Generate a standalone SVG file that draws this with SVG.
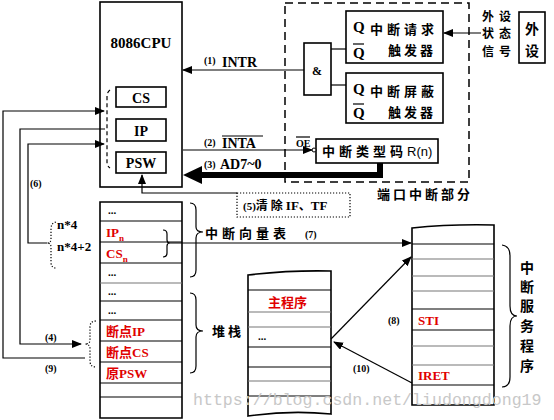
<svg xmlns="http://www.w3.org/2000/svg" width="554" height="420" viewBox="0 0 554 420">
<defs>
<style>
.b{fill:none;stroke:#000;stroke-width:1.6}
.t{fill:none;stroke:#000;stroke-width:1.2}
.k{stroke:#000;stroke-width:1.2}
.s{font-family:"Liberation Serif","Times New Roman",serif;font-weight:bold;fill:#000}
.cn{font-family:"Noto Sans CJK SC","Noto Sans CJK JP",sans-serif;font-weight:bold;fill:#000}
.r{fill:#e00000}
.dot{fill:none;stroke:#000;stroke-width:1.2;stroke-dasharray:1.2,1.8}
</style>
<marker id="ah" markerWidth="10" markerHeight="8" refX="9" refY="4" orient="auto" markerUnits="userSpaceOnUse">
<path d="M0,0 L10,4 L0,8 Z" fill="#000"/>
</marker>
</defs>
<rect width="554" height="420" fill="#fff"/>

<g id="cpu">
<rect class="b" x="100" y="2" width="82" height="185"/>
<text class="s" x="141" y="48" font-size="15" text-anchor="middle">8086CPU</text>
<rect class="b" x="116" y="87" width="50" height="20"/>
<text class="s" x="141" y="103" font-size="14" text-anchor="middle">CS</text>
<rect class="b" x="116" y="119" width="50" height="22"/>
<text class="s" x="141" y="136" font-size="14" text-anchor="middle">IP</text>
<rect class="b" x="116" y="152" width="50" height="21"/>
<text class="s" x="141" y="168" font-size="14" text-anchor="middle">PSW</text>
<path d="M110,90 Q107,92 107,97 L107,162 Q107,166 110,168" fill="none" stroke="#000" stroke-width="1.2" stroke-dasharray="4,3"/>
</g>

<g id="port">
<rect x="285" y="3" width="184" height="179" fill="none" stroke="#000" stroke-width="1.5" stroke-dasharray="8,5"/>
<text class="cn" x="377" y="199" font-size="13" letter-spacing="3">端口中断部分</text>
</g>

<g id="andgate">
<rect class="b" x="304" y="43" width="27" height="52"/>
<text class="s" x="317" y="75" font-size="12" text-anchor="middle">&amp;</text>
</g>

<g id="reqff">
<rect class="b" x="346" y="11" width="97" height="52"/>
<text class="s" x="353" y="32" font-size="15">Q</text>
<text class="s" x="353" y="58" font-size="15">Q</text>
<line class="k" x1="353" y1="44" x2="364" y2="44"/>
<text class="cn" x="370" y="34" font-size="13" letter-spacing="4">中断请求</text>
<text class="cn" x="388" y="55" font-size="13" letter-spacing="3">触发器</text>
</g>

<g id="maskff">
<rect class="b" x="346" y="73" width="97" height="50"/>
<text class="s" x="353" y="94" font-size="15">Q</text>
<text class="s" x="353" y="118" font-size="15">Q</text>
<line class="k" x1="353" y1="104" x2="364" y2="104"/>
<text class="cn" x="370" y="96" font-size="13" letter-spacing="4">中断屏蔽</text>
<text class="cn" x="388" y="117" font-size="13" letter-spacing="3">触发器</text>
</g>

<g id="typecode">
<rect class="b" x="316" y="139" width="122" height="24"/>
<text class="cn" x="322" y="156" font-size="13" letter-spacing="4">中断类型码<tspan font-family="Liberation Sans,sans-serif" font-weight="normal" letter-spacing="0">R(n)</tspan></text>
<circle cx="314" cy="150" r="2" fill="#fff" stroke="#000" stroke-width="1"/>
<text class="s" x="296" y="147" font-size="10" font-weight="normal">OE</text>
<line class="k" x1="296" y1="137" x2="310" y2="137" stroke-width="1"/>
</g>

<g id="signal">
<text class="cn" x="482" y="21" font-size="12" letter-spacing="5">外设</text>
<text class="cn" x="482" y="38" font-size="12" letter-spacing="5">状态</text>
<text class="cn" x="482" y="56" font-size="12" letter-spacing="5">信号</text>
</g>

<g id="device">
<rect class="b" x="519" y="12" width="26" height="51"/>
<text class="cn" x="532" y="34" font-size="14" text-anchor="middle">外</text>
<text class="cn" x="532" y="56" font-size="14" text-anchor="middle">设</text>
</g>

<g id="clearif">
<rect class="dot" x="237" y="193" width="113" height="24"/>
<text class="s" x="243" y="210" font-size="11" font-weight="normal">(5)<tspan class="cn" font-size="12" letter-spacing="3">清除</tspan><tspan font-weight="bold" font-size="13">IF</tspan><tspan class="cn" font-size="12">、</tspan><tspan font-weight="bold" font-size="13">TF</tspan></text>
</g>

<g id="vectortable">
<path class="b" d="M100,202 L182,202 L182,418 L100,418 Z"/>
<g class="k">
<line x1="100" y1="221" x2="182" y2="221"/>
<line x1="100" y1="242" x2="182" y2="242"/>
<line x1="100" y1="263" x2="182" y2="263"/>
<line x1="100" y1="283" x2="182" y2="283" stroke="#777"/>
<line x1="100" y1="301" x2="182" y2="301"/>
<line x1="100" y1="320" x2="182" y2="320"/>
<line x1="100" y1="341" x2="182" y2="341"/>
<line x1="100" y1="362" x2="182" y2="362"/>
<line x1="100" y1="383" x2="182" y2="383"/>
<line x1="100" y1="397" x2="182" y2="397"/>
</g>
<text class="s" x="108" y="214" font-size="11" font-weight="normal">...</text>
<text class="s r" x="106" y="237" font-size="13">IP<tspan font-size="9" dy="4">n</tspan></text>
<text class="s r" x="106" y="258" font-size="13">CS<tspan font-size="9" dy="4">n</tspan></text>
<text class="s" x="108" y="276" font-size="11" font-weight="normal">...</text>
<text class="s" x="108" y="295" font-size="11" font-weight="normal">...</text>
<text class="s" x="108" y="314" font-size="11" font-weight="normal">...</text>
<text class="s r" x="106" y="336" font-size="13"><tspan class="cn r" font-size="13">断点</tspan>IP</text>
<text class="s r" x="106" y="357" font-size="13"><tspan class="cn r" font-size="13">断点</tspan>CS</text>
<text class="s r" x="106" y="378" font-size="13"><tspan class="cn r" font-size="13">原</tspan>PSW</text>
<text class="s" x="57" y="229" font-size="13" font-weight="normal">n*4</text>
<text class="s" x="57" y="251" font-size="13" font-weight="normal">n*4+2</text>
<path class="dot" d="M56,222 Q51,223 51,229 L51,239 Q51,243 47,243 Q51,243 51,247 L51,262 Q51,268 56,268"/>
<path class="t" d="M163,230 Q167,230 167,234 L167,240 Q167,243 170,243 Q167,243 167,246 L167,253 Q167,257 163,257"/>
<path class="t" d="M190,203 Q196,203 196,210 L196,227 Q196,232 203,232 Q196,232 196,238 L196,270 Q196,277 190,277"/>
<text class="cn" x="205" y="238" font-size="13" letter-spacing="4">中断向量表</text>
<path class="t" d="M190,293 Q196,293 196,300 L196,325 Q196,331 203,331 Q196,331 196,337 L196,366 Q196,373 190,373"/>
<text class="cn" x="212" y="336" font-size="13" letter-spacing="3">堆栈</text>
<path class="dot" d="M96,321 Q90,321 90,327 L90,340 Q90,344 85,344 Q90,344 90,349 L90,361 Q90,367 96,367"/>
</g>

<g id="mainprog">
<path class="b" d="M248,275 Q290,270 331,271 L331,414 Q290,410 248,416 Z"/>
<g class="k">
<line x1="248" y1="290" x2="331" y2="290"/>
<line x1="248" y1="312" x2="331" y2="312" stroke="#777"/>
<line x1="248" y1="327" x2="331" y2="327" stroke="#777"/>
<line x1="248" y1="347" x2="331" y2="347"/>
<line x1="248" y1="367" x2="331" y2="367"/>
<line x1="248" y1="381" x2="331" y2="381" stroke="#777"/>
<line x1="248" y1="396" x2="331" y2="396"/>
</g>
<text class="cn r" x="268" y="307" font-size="13">主程序</text>
<text class="s" x="258" y="340" font-size="11" font-weight="normal">...</text>
</g>

<g id="isr">
<path class="b" d="M412,228 Q450,224 494,225 L494,405 L412,405 Z"/>
<g class="k">
<line x1="412" y1="244" x2="494" y2="244"/>
<line x1="412" y1="259" x2="494" y2="259" stroke="#777"/>
<line x1="412" y1="276" x2="494" y2="276" stroke="#777"/>
<line x1="412" y1="291" x2="494" y2="291" stroke="#777"/>
<line x1="412" y1="309" x2="494" y2="309"/>
<line x1="412" y1="330" x2="494" y2="330"/>
<line x1="412" y1="346" x2="494" y2="346" stroke="#777"/>
<line x1="412" y1="365" x2="494" y2="365" stroke="#777"/>
<line x1="412" y1="385" x2="494" y2="385"/>
</g>
<text class="s r" x="418" y="325" font-size="13">STI</text>
<text class="s r" x="418" y="380" font-size="13">IRET</text>
<path class="t" d="M502,245 Q510,246 510,256 L510,306 Q510,316 517,316 Q510,316 510,326 L510,377 Q510,387 502,387"/>
<g class="cn" font-size="14" text-anchor="middle">
<text x="527" y="273">中</text>
<text x="527" y="292">断</text>
<text x="527" y="311">服</text>
<text x="527" y="331">务</text>
<text x="527" y="351">程</text>
<text x="527" y="371">序</text>
</g>
</g>

<g id="connectors">
<line class="k" x1="304" y1="70" x2="183" y2="70" marker-end="url(#ah)"/>
<text class="s" x="204" y="64" font-size="10" font-weight="normal">(1)</text>
<text class="s" x="222" y="67" font-size="14">INTR</text>
<line class="k" x1="331" y1="49" x2="346" y2="49"/>
<line class="k" x1="331" y1="85" x2="346" y2="85"/>
<line class="k" x1="481" y1="33" x2="444" y2="33" marker-end="url(#ah)"/>
<line class="k" x1="183" y1="150" x2="312" y2="150" marker-end="url(#ah)"/>
<text class="s" x="204" y="146" font-size="10" font-weight="normal">(2)</text>
<text class="s" x="222" y="148" font-size="14">INTA</text>
<line class="k" x1="222" y1="136" x2="263" y2="136"/>
<polyline points="380,163 380,175 198,175" fill="none" stroke="#000" stroke-width="6"/>
<polygon points="183,175 202,166 202,184" fill="#000"/>
<text class="s" x="204" y="168" font-size="10" font-weight="normal">(3)</text>
<text class="s" x="220" y="169" font-size="14">AD7~0</text>
<polyline class="t" points="237,193 142,193 142,175" marker-end="url(#ah)"/>
<polyline class="t" points="85,358 3,358 3,111 104,111" marker-end="url(#ah)"/>
<polyline class="t" points="105,129 20,129 20,344 81,344" marker-end="url(#ah)"/>
<polyline class="t" points="47,243 28,243 28,144 104,144" marker-end="url(#ah)"/>
<text class="s" x="30" y="187" font-size="10" font-weight="normal">(6)</text>
<text class="s" x="45" y="341" font-size="10" font-weight="normal">(4)</text>
<text class="s" x="45" y="372" font-size="10" font-weight="normal">(9)</text>
<line class="k" x1="170" y1="243" x2="411" y2="243" marker-end="url(#ah)"/>
<text class="s" x="305" y="238" font-size="10" font-weight="normal">(7)</text>
<line class="k" x1="331" y1="339" x2="411" y2="257" marker-end="url(#ah)"/>
<text class="s" x="388" y="324" font-size="10" font-weight="normal">(8)</text>
<line class="k" x1="412" y1="383" x2="334" y2="342" marker-end="url(#ah)"/>
<text class="s" x="353" y="372" font-size="10" font-weight="normal">(10)</text>
</g>

<text x="193" y="405" font-family="Liberation Mono,monospace" font-size="16.6" fill="#c8c8c8">https://blog.csdn.net/liudongdong19</text>
</svg>
